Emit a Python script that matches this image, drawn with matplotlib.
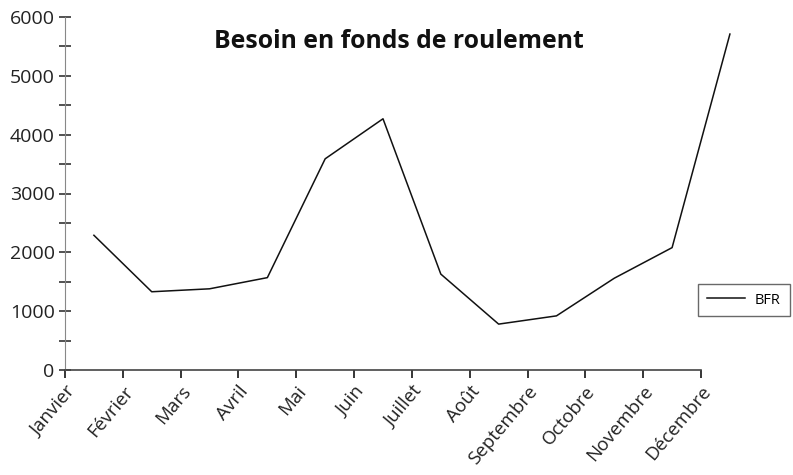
import matplotlib
matplotlib.use("Agg")
import matplotlib.pyplot as plt
from matplotlib.ticker import MultipleLocator

mois = ["Janvier", "Février", "Mars", "Avril", "Mai", "Juin", "Juillet",
        "Août", "Septembre", "Octobre", "Novembre", "Décembre"]
bfr = [2290, 1330, 1380, 1570, 3590, 4270, 1630, 780, 920, 1560, 2080, 5710]

plt.rcParams['font.family'] = ['Open Sans', 'DejaVu Sans']

fig = plt.figure(figsize=(7.93, 4.75), dpi=100)
ax = fig.add_axes([65 / 793, 1 - 370 / 475, (701 - 65) / 793, (370 - 17) / 475])

# points sit between the category ticks, as in the spreadsheet chart
xs = [i + 0.5 for i in range(len(mois))]
ax.plot(xs, bfr, color="#111111", lw=1.1, label="BFR", clip_on=False)

ax.set_xlim(0, 11)
ax.set_ylim(0, 6000)
ax.set_xticks(range(len(mois)))
ax.set_xticklabels(mois, rotation=50, ha="right", rotation_mode="anchor",
                   fontsize=13.5, color="#222222")
ax.yaxis.set_major_locator(MultipleLocator(1000))
ax.yaxis.set_minor_locator(MultipleLocator(500))
ax.tick_params(axis="y", which="both", direction="inout", length=9, width=1.1,
               labelsize=14, colors="#222222", pad=3)
ax.tick_params(axis="x", direction="out", length=6, width=1.1, pad=3)

for s in ["top", "right"]:
    ax.spines[s].set_visible(False)
ax.spines["left"].set_color("#888888")
ax.spines["bottom"].set_color("#444444")
ax.spines["bottom"].set_linewidth(1.2)

fig.text(399 / 793, 1 - 41 / 475, "Besoin en fonds de roulement", fontsize=17.8,
         fontweight="bold", ha="center", va="center", color="#111111")

leg = fig.legend(loc="center left", bbox_to_anchor=(698 / 793, 1 - 300 / 475),
                 frameon=True, fancybox=False, fontsize=10.5, handlelength=2.6,
                 handletextpad=0.7, borderpad=0.6, borderaxespad=0)
leg.get_frame().set_edgecolor("#444444")
leg.get_frame().set_linewidth(1.0)

fig.savefig("out.png", dpi=100)
